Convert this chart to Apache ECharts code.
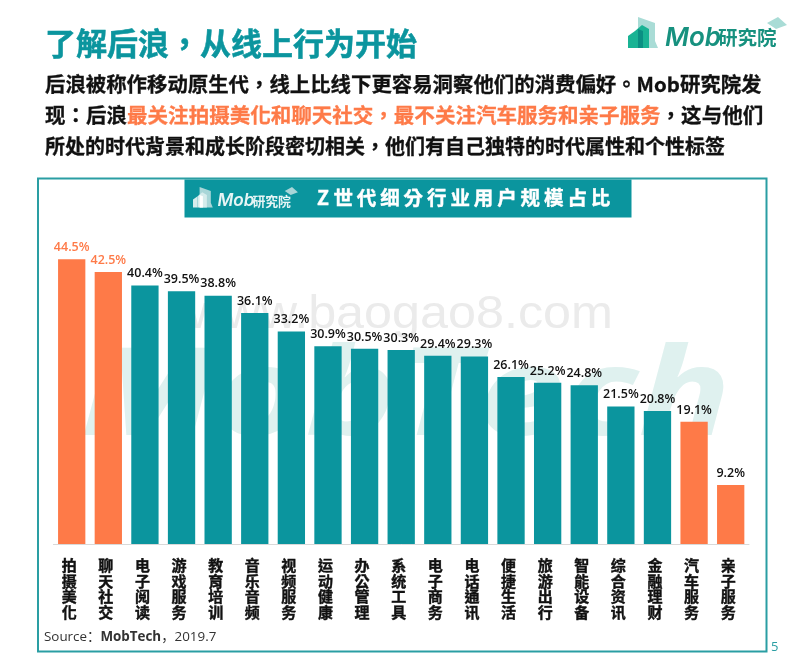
<!DOCTYPE html>
<html>
<head>
<meta charset="utf-8">
<style>html,body{margin:0;padding:0;background:#fff}#main{width:800px;height:663px}</style>
<script src="https://cdn.jsdelivr.net/npm/echarts@6/dist/echarts.min.js"></script>
</head>
<body>
<div id="main"></div>
<script>
// Z世代细分行业用户规模占比
var categories = ['拍摄美化','聊天社交','电子阅读','游戏服务','教育培训','音乐音频','视频服务','运动健康','办公管理','系统工具','电子商务','电话通讯','便捷生活','旅游出行','智能设备','综合资讯','金融理财','汽车服务','亲子服务'];
var values = [44.5,42.5,40.4,39.5,38.8,36.1,33.2,30.9,30.5,30.3,29.4,29.3,26.1,25.2,24.8,21.5,20.8,19.1,9.2];
var highlighted = ['拍摄美化','聊天社交','汽车服务','亲子服务'];

var TEAL = '#0b959e', ORANGE = '#fe7a48';
var CJK = '"Noto Sans CJK TC","Open Sans",sans-serif';
var LATIN = '"Open Sans","Noto Sans CJK SC",sans-serif';

var pageTitle = '了解后浪，从线上行为开始';
var chartTitle = 'Z世代细分行业用户规模占比';
var introLines = [
    '后浪被称作移动原生代，线上比线下更容易洞察他们的消费偏好。Mob研究院发',
    '现：后浪{o|最关注拍摄美化和聊天社交，最不关注汽车服务和亲子服务}，这与他们',
    '所处的时代背景和成长阶段密切相关，他们有自己独特的时代属性和个性标签'
];
var introStretch = [1.02, 1.026, 1];

function label(x, y, text, font, size, color, weight, extra) {
    return {
        type: 'text', x: x, y: y, z: 20, silent: true,
        style: Object.assign({text: text, fontFamily: font, fontSize: size, fill: color, fontWeight: weight || 'normal', textVerticalAlign: 'middle'}, extra || {})
    };
}

// logo: building blocks, mortarboard and wordmark
function logo(x, y, s, c1, c2, c3, textColor) {
    function poly(points, fill) {
        return {type: 'polygon', x: x, y: y, scaleX: s, scaleY: s, z: 20, silent: true, shape: {points: points}, style: {fill: fill}};
    }
    return [
        poly([[10,0],[27,6],[27,24],[30,31],[10,31]], c3),
        poly([[0,31],[0,19],[7,14],[7,31]], c1),
        poly([[7,14],[14,8],[21,12],[21,31],[7,31]], c1),
        poly([[10,12],[15,14],[15,31],[10,31]], c2),
        poly([[139,6],[150,0],[159,8],[148,12]], c3),
        label(x + 37 * s, y + 21 * s, 'Mob', 'Inter,sans-serif', 26 * s, textColor, 600, {fontStyle: 'italic'}),
        label(x + 90 * s, y + 21 * s, '研究院', CJK, 19.5 * s, textColor, 'bold')
    ];
}

var chart = echarts.init(document.getElementById('main'), null, {renderer: 'canvas'});

var graphics = [
    {type: 'rect', z: 0, silent: true, shape: {x: 38, y: 178.5, width: 728.5, height: 473}, style: {fill: '#fff', stroke: '#2a9ea3', lineWidth: 2}},
    {type: 'rect', z: 1, silent: true, shape: {x: 184.5, y: 179.5, width: 447, height: 38}, style: {fill: TEAL}},
    label(45, 43, pageTitle, CJK, 31, TEAL, 'bold', {stroke: TEAL, lineWidth: 0.5}),
    label(44, 637, '{a|Source：}{b|MobTech}{a|，2019.7}', LATIN, 13.4, '#333', 'normal', {rich: {
        a: {fontFamily: LATIN, fontSize: 13.4, fill: '#333'},
        b: {fontFamily: LATIN, fontSize: 13.4, fontWeight: 'bold', fill: '#333'}
    }}),
    label(771, 647, '5', LATIN, 13, '#2a9ea3')
];

// 水印
var mark = label(188, 315, 'www.baogao8.com', '"Liberation Sans",sans-serif', 47, '#ebebeb');
mark.z = 2;
mark.scaleX = 1.07;
graphics.push(mark);
var brand = label(80, 400, 'MobTech', '"Open Sans",sans-serif', 122, '#dff1ef', 'bold', {fontStyle: 'italic'});
brand.z = 1;
brand.scaleX = 1.26;
graphics.push(brand);

// 标题逐字摆放
chartTitle.split('').forEach(function (ch, i) {
    graphics.push(label(i === 0 ? 317 : 310 + 23.4 * i, 198, ch, CJK, 19.5, '#fff', 'bold', {stroke: '#fff', lineWidth: 0.4}));
});

introLines.forEach(function (line, i) {
    var t = label(45, 84.5 + i * 31, line, CJK, 20, '#111', 'bold', {
        stroke: '#111', lineWidth: 0.3,
        rich: {o: {fontFamily: CJK, fontSize: 20, fontWeight: 'bold', fill: ORANGE, stroke: ORANGE, lineWidth: 0.3}}
    });
    t.scaleX = introStretch[i];
    graphics.push(t);
});
graphics = graphics
    .concat(logo(628, 17, 1, '#19b394', '#0b8f83', '#a9dcd6', '#17917f'))
    .concat(logo(193, 187, 0.66, '#d5ecec', '#ffffff', '#a8d6d8', '#e6f5f5'));

chart.setOption({
    animation: false,
    grid: {left: 53.4, right: 51, top: 224, bottom: 119},
    xAxis: {
        type: 'category',
        data: categories,
        axisLine: {lineStyle: {color: '#d9d9d9', width: 1}},
        axisTick: {show: false},
        axisLabel: {
            interval: 0,
            margin: 14,
            fontFamily: CJK,
            fontSize: 15,
            fontWeight: 'bold',
            color: '#111',
            lineHeight: 15.5,
            textBorderColor: '#111',
            textBorderWidth: 0.4,
            padding: [0, 5, 0, 0],
            formatter: function (v) { return v.split('').join('\n'); }
        }
    },
    yAxis: {type: 'value', min: 0, max: 50, show: false},
    series: [{
        type: 'bar',
        barWidth: 27.3,
        z: 5,
        data: values.map(function (v, i) {
            var hot = highlighted.indexOf(categories[i]) >= 0;
            var orangeLabel = hot && v > 40;
            return {value: v, itemStyle: {color: hot ? ORANGE : TEAL}, label: {color: orangeLabel ? ORANGE : '#111'}};
        }),
        label: {
            show: true,
            position: 'top',
            distance: 5.5,
            fontFamily: LATIN,
            fontSize: 12.5,
            fontWeight: 600,
            formatter: function (p) { return p.value.toFixed(1) + '%'; }
        }
    }],
    graphic: graphics
});
</script>
</body>
</html>
